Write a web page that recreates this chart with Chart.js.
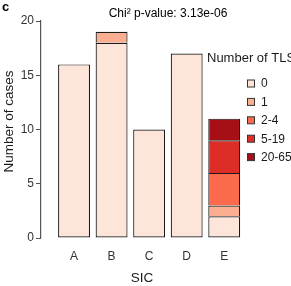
<!DOCTYPE html>
<html>
<head>
<meta charset="utf-8">
<script src="https://cdn.jsdelivr.net/npm/chart.js@4"></script>
<style>
  html, body { margin: 0; padding: 0; background: #fff; overflow: hidden; }
</style>
</head>
<body>
<canvas class="chart" width="291" height="286"></canvas>
<script>
const categories = ['A', 'B', 'C', 'D', 'E']
const tlsGroups = ['0', '1', '2-4', '5-19', '20-65']
const tls0 = [16, 18, 10, 17, 2]
const tls1 = [0, 1, 0, 0, 1]
const tls2to4 = [0, 0, 0, 0, 3]
const tls5to19 = [0, 0, 0, 0, 3]
const tls20to65 = [0, 0, 0, 0, 2]
const yTicks = [0, 5, 10, 15, 20]

const groupColors = ['#FEE5D9', '#FCAE91', '#FB6A4A', '#DE2D26', '#A50F15']
const font = 'Liberation Sans, Arial, sans-serif'

renderChart()

function renderChart() {
    const c = document.getElementsByClassName('chart')[0]
    const ctx = c.getContext('2d')
    const series = [tls0, tls1, tls2to4, tls5to19, tls20to65]

    const datasets = series.map((vals, k) => ({
        label: tlsGroups[k],
        data: vals.map((v, i) => ({x: i, y: v || null})),
        backgroundColor: groupColors[k],
        borderColor: '#1a1a1a',
        // upper segments skip their bottom edge so the joins aren't doubled
        borderWidth: k === 0 ? 1.2 : {top: 1.2, left: 1.2, right: 1.2, bottom: 0},
        borderSkipped: false,
        barPercentage: 0.85,
        categoryPercentage: 1
    }))

    // title, y title, legend and panel letter drawn by hand
    // (legend runs off the right edge in the original)
    const extras = {
        id: 'extras',
        afterDraw(chart) {
            const g = chart.ctx
            g.save()
            g.fillStyle = '#000'
            g.font = 'bold 13px ' + font
            g.textBaseline = 'middle'
            g.fillText('c', 2, 7)

            g.font = '12px ' + font
            g.textAlign = 'center'
            g.fillText('Chi\u00b2 p-value: 3.13e-06', 168, 14)

            g.save()
            g.fillStyle = '#1a1a1a'
            g.font = '13.5px ' + font
            g.translate(9.5, 121.5)
            g.rotate(-Math.PI / 2)
            g.fillText('Number of cases', 0, 0)
            g.restore()

            g.textAlign = 'left'
            g.fillStyle = '#1a1a1a'
            g.font = '13px ' + font
            g.fillText('Number of TLS', 207, 58)
            g.font = '12px ' + font
            chart.data.datasets.forEach((ds, i) => {
                const y = 84 + i * 18.4
                g.fillStyle = ds.backgroundColor
                g.fillRect(247.5, y - 4, 7, 7)
                g.strokeStyle = '#333'
                g.lineWidth = 1
                g.strokeRect(247.5, y - 4, 7, 7)
                g.fillStyle = '#1a1a1a'
                g.fillText(ds.label, 261, y)
            })
            g.restore()
        }
    }

    new Chart(ctx, {
        type: 'bar',
        data: {datasets},
        plugins: [extras],
        options: {
            responsive: false,
            animation: false,
            devicePixelRatio: 1,
            layout: {padding: {left: 0, right: 48, top: 21, bottom: 0}},
            plugins: {
                legend: {display: false},
                tooltip: {enabled: false}
            },
            scales: {
                x: {
                    type: 'linear',
                    stacked: true,
                    offset: false,
                    min: -0.88,
                    max: 4.5,
                    afterBuildTicks: s => { s.ticks = categories.map((c, i) => ({value: i})) },
                    afterFit: s => { s.height = 48 },
                    grid: {display: false, drawTicks: false, offset: false},
                    border: {display: false},
                    ticks: {
                        callback: v => categories[v],
                        color: '#333',
                        padding: 11,
                        maxRotation: 0,
                        font: {family: font, size: 12}
                    },
                    title: {
                        display: true,
                        text: 'SIC',
                        color: '#1a1a1a',
                        font: {family: font, size: 13.5},
                        padding: {top: 0, bottom: 0}
                    }
                },
                y: {
                    stacked: true,
                    min: 0,
                    max: 20,
                    afterBuildTicks: s => { s.ticks = yTicks.map(v => ({value: v})) },
                    afterFit: s => { s.width = 41 },
                    grid: {drawOnChartArea: false, tickLength: 5, color: '#555', lineWidth: 1},
                    border: {display: true, color: '#555', width: 1.2},
                    ticks: {
                        color: '#333',
                        padding: 2,
                        font: {family: font, size: 12}
                    }
                }
            }
        }
    })
}
</script>
</body>
</html>
